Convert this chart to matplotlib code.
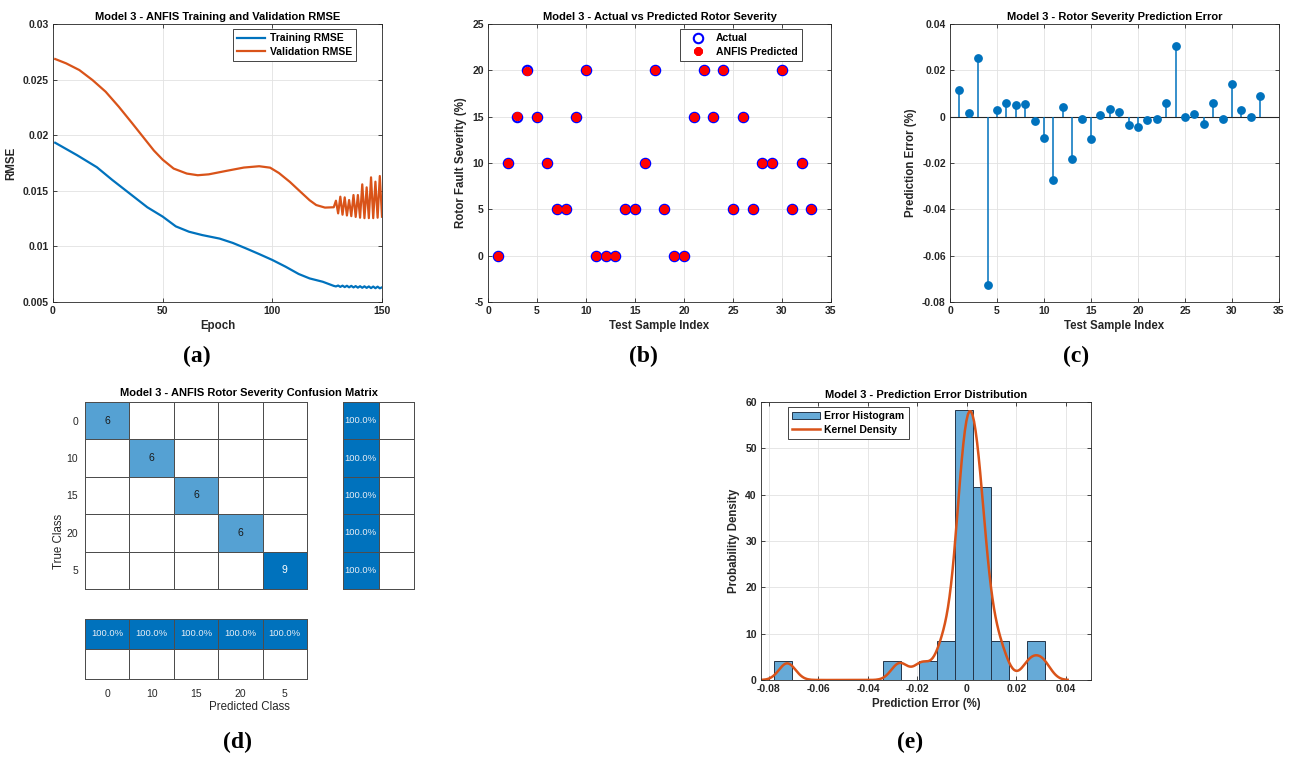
import numpy as np
import matplotlib

matplotlib.use("Agg")

import matplotlib.pyplot as plt
from matplotlib.colors import LinearSegmentedColormap

BLUE = "#0072BD"
ORANGE = "#D95319"
INK = "#262626"
GRID = "#e2e2e2"
CELL_EDGE = "#4d4d4d"

# (a) RMSE curves
train_epochs = [1, 11, 20, 27, 35, 43, 50, 56, 62, 68, 76, 82, 88, 94, 100,
                106, 112, 117, 123, 128, 129, 130, 131, 132, 133, 134, 135,
                136, 137, 138, 139, 140, 141, 142, 143, 144, 145, 146, 147,
                148, 149, 150]
train_rmse = [0.01932, 0.01820, 0.01712, 0.01598, 0.01475, 0.01352, 0.01268,
              0.01180, 0.01132, 0.01102, 0.01070, 0.01031, 0.00982, 0.00931,
              0.00878, 0.00818, 0.00752, 0.00712, 0.00682, 0.00645, 0.00640,
              0.00648, 0.00636, 0.00647, 0.00634, 0.00646, 0.00632, 0.00645,
              0.00631, 0.00643, 0.00629, 0.00642, 0.00628, 0.00641, 0.00627,
              0.00640, 0.00625, 0.00639, 0.00624, 0.00638, 0.00623, 0.00632]
val_epochs = [1, 6, 12, 18, 24, 30, 36, 41, 46, 50, 55, 61, 66, 71, 79, 87,
              94, 99, 103, 108, 113, 117, 120, 124, 128, 129, 130, 131, 132,
              133, 134, 135, 136, 137, 138, 139, 140, 141, 142, 143, 144, 145,
              146, 147, 148, 149, 150]
val_rmse = [0.02685, 0.02646, 0.02586, 0.02496, 0.02391, 0.02256, 0.02110,
            0.01986, 0.01862, 0.01780, 0.01700, 0.01655, 0.01640, 0.01648,
            0.01679, 0.01709, 0.01721, 0.01708, 0.01660, 0.01580, 0.01488,
            0.01415, 0.01372, 0.01349, 0.01352, 0.01411, 0.01297, 0.01447,
            0.01285, 0.01441, 0.01278, 0.01417, 0.01272, 0.01462, 0.01265,
            0.01462, 0.01258, 0.01558, 0.01254, 0.01531, 0.01254, 0.01621,
            0.01254, 0.01582, 0.01258, 0.01633, 0.01267]

# (b) and (c) test samples
actual = [0, 10, 15, 20, 15, 10, 5, 5, 15, 20, 0, 0, 0, 5, 5, 10, 20, 5, 0, 0,
          15, 20, 15, 20, 5, 15, 5, 10, 10, 20, 5, 10, 5]
errors = [0.0113, 0.0016, 0.0254, -0.0726, 0.0028, 0.0057, 0.0049, 0.0055,
          -0.0017, -0.0091, -0.0272, 0.0042, -0.0181, -0.0010, -0.0097,
          0.0006, 0.0035, 0.0022, -0.0035, -0.0043, -0.0013, -0.0012, 0.0059,
          0.0306, -0.0003, 0.0012, -0.0033, 0.0057, -0.0009, 0.0142, 0.0030,
          -0.0003, 0.0090]

# (d) confusion matrix
classes = ["0", "10", "15", "20", "5"]
confusion = [[6, 0, 0, 0, 0],
             [0, 6, 0, 0, 0],
             [0, 0, 6, 0, 0],
             [0, 0, 0, 6, 0],
             [0, 0, 0, 0, 9]]

# (e) histogram bins
hist_start = -0.0778
hist_width = 0.00729
hist_bins = 15

plt.rcParams["font.family"] = ["Liberation Sans", "DejaVu Sans"]
plt.rcParams["font.size"] = 7.5
plt.rcParams["axes.unicode_minus"] = False

TICK_SIZE = 7.5
LABEL_SIZE = 8.3
TITLE_SIZE = 8


def _matlab_axis(ax):
    ax.set_facecolor("white")
    for spine in ax.spines.values():
        spine.set_color(INK)
        spine.set_linewidth(0.6)
    ax.tick_params(direction="in", top=True, right=True, length=3,
                   width=0.6, colors=INK, labelsize=TICK_SIZE, pad=3)
    for label in ax.get_xticklabels() + ax.get_yticklabels():
        label.set_fontweight("bold")
    ax.grid(True, color=GRID, linewidth=0.6)
    ax.set_axisbelow(True)


def _labels(ax, xlabel, ylabel, title):
    ax.set_xlabel(xlabel, fontweight="bold", fontsize=LABEL_SIZE, labelpad=3,
                  color=INK)
    ax.set_ylabel(ylabel, fontweight="bold", fontsize=LABEL_SIZE, labelpad=4,
                  color=INK)
    ax.set_title(title, fontweight="bold", fontsize=TITLE_SIZE, pad=3,
                 color="black")


def _legend(ax, anchor, loc):
    leg = ax.legend(loc=loc, bbox_to_anchor=anchor, fancybox=False,
                    framealpha=1, edgecolor=INK,
                    prop={"weight": "bold", "size": 7.5},
                    borderpad=0.4, handlelength=2.7, handletextpad=0.4,
                    labelspacing=0.35, borderaxespad=0)
    leg.get_frame().set_linewidth(0.6)
    return leg


def _grid_cells(ax, values, cmap, vmax):
    mesh = ax.pcolormesh(values, cmap=cmap, vmin=0, vmax=vmax,
                         edgecolors=CELL_EDGE, linewidth=0.7)
    mesh.set_clip_on(False)
    ax.set_xticks([])
    ax.set_yticks([])
    for spine in ax.spines.values():
        spine.set_visible(False)
    return mesh


W, H = 1293, 763
fig = plt.figure(figsize=(W / 100, H / 100), dpi=100, facecolor="white")


def _box(left, top, right, bottom):
    return [left / W, 1 - bottom / H, (right - left) / W, (bottom - top) / H]


# ---- (a) ----
ax = fig.add_axes(_box(53, 24, 382, 302))
ax.plot(train_epochs, train_rmse, color=BLUE, lw=1.6, label="Training RMSE")
ax.plot(val_epochs, val_rmse, color=ORANGE, lw=1.6, label="Validation RMSE")
ax.set_xlim(0, 150)
ax.set_ylim(0.005, 0.03)
ax.set_xticks([0, 50, 100, 150])
ax.set_yticks([0.005, 0.01, 0.015, 0.02, 0.025, 0.03])
ax.set_yticklabels(["0.005", "0.01", "0.015", "0.02", "0.025", "0.03"])
_matlab_axis(ax)
_labels(ax, "Epoch", "RMSE", "Model 3 - ANFIS Training and Validation RMSE")
_legend(ax, (1 - 26 / 329, 1 - 5 / 278), "upper right")

# ---- (b) ----
idx = np.arange(1, len(actual) + 1)
predicted = np.array(actual) + np.array(errors)
ax = fig.add_axes(_box(488, 24, 831, 302))
ax.plot(idx, actual, "o", color="blue", mfc="none", ms=6.8, mew=1.5,
        ls="none", label="Actual")
ax.plot(idx, predicted, marker=(8, 2, 0), color="red", ms=6, mew=2.3,
        ls="none", label="ANFIS Predicted")
ax.set_xlim(0, 35)
ax.set_ylim(-5, 25)
ax.set_xticks(range(0, 36, 5))
ax.set_yticks(range(-5, 26, 5))
_matlab_axis(ax)
_labels(ax, "Test Sample Index", "Rotor Fault Severity (%)",
        "Model 3 - Actual vs Predicted Rotor Severity")
_legend(ax, (1 - 29 / 343, 1 - 5 / 278), "upper right")

# ---- (c) ----
ax = fig.add_axes(_box(950, 24, 1279, 302))
markers, stems, base = ax.stem(idx, errors)
markers.set_color(BLUE)
markers.set_markersize(5.3)
stems.set_color(BLUE)
stems.set_linewidth(1.1)
base.set_visible(False)
ax.axhline(0, color=INK, lw=0.8, zorder=1)
ax.set_xlim(0, 35)
ax.set_ylim(-0.08, 0.04)
ax.set_xticks(range(0, 36, 5))
ax.set_yticks([-0.08, -0.06, -0.04, -0.02, 0, 0.02, 0.04])
ax.set_yticklabels(["-0.08", "-0.06", "-0.04", "-0.02", "0", "0.02", "0.04"])
_matlab_axis(ax)
_labels(ax, "Test Sample Index", "Prediction Error (%)",
        "Model 3 - Rotor Severity Prediction Error")

# ---- (d) ----
conf = np.array(confusion)
blue_map = LinearSegmentedColormap.from_list("cm", ["white", "#0072BD"])
n = len(classes)

ax_main = fig.add_axes(_box(85, 402, 307, 589))
_grid_cells(ax_main, conf, blue_map, conf.max())
for i in range(n):
    for j in range(n):
        if conf[i, j]:
            dark = conf[i, j] / conf.max() > 0.8
            ax_main.text(j + 0.5, i + 0.5, str(conf[i, j]), ha="center",
                         va="center", fontsize=7.5,
                         color="white" if dark else "#1a1a1a")
ax_main.set_xlim(0, n)
ax_main.set_ylim(n, 0)
ax_main.set_yticks(np.arange(n) + 0.5)
ax_main.set_yticklabels(classes, fontsize=7.5, color=INK)
ax_main.tick_params(length=0, pad=5)

row_pct = 100 * np.diag(conf) / conf.sum(axis=1)
row_summary = np.column_stack([row_pct, 100 - row_pct])
ax_row = fig.add_axes(_box(343, 402, 414, 589))
_grid_cells(ax_row, row_summary, blue_map, 100)
for i in range(n):
    if row_summary[i, 0] > 0:
        ax_row.text(0.5, i + 0.5, f"{row_summary[i, 0]:.1f}%", ha="center",
                    va="center", fontsize=6.8, color="#e8eef5")
ax_row.set_xlim(0, 2)
ax_row.set_ylim(n, 0)

col_pct = 100 * np.diag(conf) / conf.sum(axis=0)
col_summary = np.vstack([col_pct, 100 - col_pct])
ax_col = fig.add_axes(_box(85, 619, 307, 679))
_grid_cells(ax_col, col_summary, blue_map, 100)
for j in range(n):
    if col_summary[0, j] > 0:
        ax_col.text(j + 0.5, 0.5, f"{col_summary[0, j]:.1f}%", ha="center",
                    va="center", fontsize=6.8, color="#e8eef5")
ax_col.set_xlim(0, n)
ax_col.set_ylim(2, 0)
ax_col.set_xticks(np.arange(n) + 0.5)
ax_col.set_xticklabels(classes, fontsize=7.5, color=INK)
ax_col.tick_params(length=0, pad=7)

fig.text(249 / W, 1 - 393 / H, "Model 3 - ANFIS Rotor Severity Confusion Matrix",
         ha="center", va="center", fontweight="bold", fontsize=TITLE_SIZE,
         color="black")
fig.text(59 / W, 1 - 541 / H, "True Class", ha="center", va="center",
         rotation=90, fontsize=8.3, color=INK)
fig.text(249 / W, 1 - 707 / H, "Predicted Class", ha="center", va="center",
         fontsize=8.3, color=INK)

# ---- (e) ----
err = np.array(errors)
edges = hist_start + hist_width * np.arange(hist_bins + 1)
mad = np.median(np.abs(err - np.median(err)))
bw = mad / 0.6745 * (4 / (3 * len(err))) ** 0.2
grid_x = np.linspace(err.min() - 3 * bw, err.max() + 3 * bw, 200)
kde = np.exp(-0.5 * ((grid_x[:, None] - err[None, :]) / bw) ** 2).sum(axis=1)
kde /= len(err) * bw * np.sqrt(2 * np.pi)

ax = fig.add_axes(_box(761, 402, 1091, 680))
ax.hist(err, bins=edges, density=True, color="#66AAD7",
        edgecolor="#24364a", linewidth=0.7, label="Error Histogram")
ax.plot(grid_x, kde, color=ORANGE, lw=1.8, label="Kernel Density")
ax.set_xlim(-0.0832, 0.0501)
ax.set_ylim(0, 60)
ax.set_xticks([-0.08, -0.06, -0.04, -0.02, 0, 0.02, 0.04])
ax.set_xticklabels(["-0.08", "-0.06", "-0.04", "-0.02", "0", "0.02", "0.04"])
ax.set_yticks(range(0, 61, 10))
_matlab_axis(ax)
_labels(ax, "Prediction Error (%)", "Probability Density",
        "Model 3 - Prediction Error Distribution")
_legend(ax, (27 / 330, 1 - 5 / 278), "upper left")

# ---- captions ----
captions = [("(a)", 197, 356), ("(b)", 643, 356), ("(c)", 1076, 356),
            ("(d)", 237, 742), ("(e)", 910, 742)]
for text, cx, cy in captions:
    fig.text(cx / W, 1 - cy / H, text, ha="center", va="center",
             family="Liberation Serif", fontweight="bold", fontsize=17,
             color="black")

fig.savefig("out.png", dpi=100, facecolor="white")
